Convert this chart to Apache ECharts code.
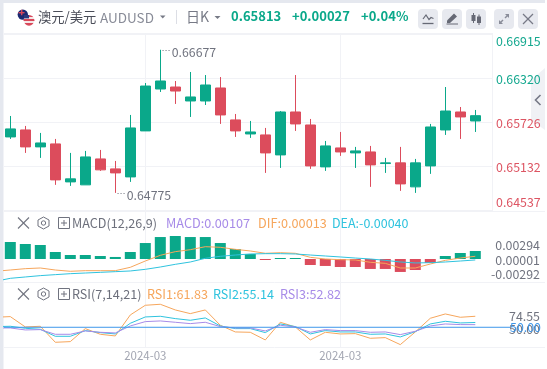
<!DOCTYPE html>
<html>
<head>
<meta charset="utf-8">
<title>AUDUSD</title>
<style>
html,body{margin:0;padding:0;background:#fff;}
#main{width:547px;height:369px;}
</style>
<script src="https://cdn.jsdelivr.net/npm/echarts@6/dist/echarts.min.js"></script>
</head>
<body>
<div id="main"></div>
<script>
var opens  = [.65527,.65621,.65393,.65433,.64922,.64882,.65231,.65097,.64989,.65608,.66172,.66199,.66011,.66011,.66186,.65756,.65567,.65554,.65285,.65863,.65688,.65124,.65379,.65312,.65325,.65169,.65178,.64855,.65137,.65621,.65863,.65742];
var closes = [.65635,.65393,.65446,.64949,.64963,.65258,.65084,.65043,.65648,.66212,.66280,.66145,.66065,.66226,.65823,.65608,.65594,.65312,.65863,.65702,.65137,.65406,.65325,.65339,.65151,.65178,.64895,.65178,.65661,.65876,.65796,.65813];
var lows   = [.65500,.65312,.65245,.64882,.64868,.64882,.65070,.64774,.64922,.65608,.66132,.65971,.65796,.65957,.65702,.65527,.65514,.65043,.65110,.65608,.65097,.65070,.65272,.65110,.64855,.65043,.64801,.64774,.65030,.65554,.65500,.65594];
var highs  = [.65809,.65675,.65581,.65500,.65312,.65339,.65352,.65204,.65823,.66253,.66700,.66280,.66401,.66360,.66333,.65836,.65742,.65648,.65876,.66360,.65769,.65473,.65594,.65393,.65406,.65245,.65393,.65231,.65702,.66199,.65930,.65890];
var priceTicks = [.66915,.66320,.65726,.65132,.64537];
var lastPrice = .65813;
var highIdx = 10, lowIdx = 7;
var highText = '0.66677', lowText = '0.64775';

var macdBars = [.00227,.00200,.00187,.00093,.00053,.00053,.00040,.00027,.00093,.00213,.00293,.00307,.00293,.00293,.00213,.00133,.00067,-.00007,.00005,.00005,-.00080,-.00093,-.00107,-.00107,-.00133,-.00133,-.00173,-.00147,-.00053,.00040,.00080,.00107];
// lines start one step left of the first candle, cut off by the grid
var dif = [-.00164,-.00147,-.00129,-.00120,-.00147,-.00164,-.00156,-.00156,-.00156,-.00111,-.00027,.00049,.00098,.00124,.00164,.00156,.00129,.00107,.00076,.00084,.00076,.00022,0,-.00009,-.00013,-.00044,-.00058,-.00120,-.00120,-.00067,-.00018,.00013,.00036];
var dea = [-.00298,-.00258,-.00240,-.00222,-.00209,-.00196,-.00187,-.00178,-.00169,-.00160,-.00138,-.00107,-.00071,-.00040,.00009,.00036,.00053,.00067,.00071,.00071,.00067,.00053,.00040,.00027,.00013,0,-.00018,-.00040,-.00053,-.00049,-.00040,-.00027,-.00013];
var macdTicks = [.00294,.00001,-.00292];

var rsi1 = [60.75,61.47,50.36,51.08,33.87,34.59,48.57,42.47,40.68,63.26,73.65,74.73,68.64,64.69,68.64,52.15,44.98,44.62,36.38,55.38,50.36,36.38,44.62,42.83,43.19,38.17,38.89,31.36,44.98,59.68,64.34,60.75,61.83];
var rsi2 = [50.72,51.08,48.92,47.85,40.32,40.32,46.42,44.27,42.83,54.30,61.11,61.83,59.32,57.53,60.04,51.43,48.57,48.57,44.27,53.58,50.72,42.83,46.42,44.98,44.98,42.47,42.83,39.61,45.34,53.58,56.45,54.66,55.14];
var rsi3 = [49.28,49.28,47.13,47.49,42.47,42.47,46.06,44.62,43.91,51.43,56.09,56.81,55.38,53.94,55.38,50.72,49.28,49.28,46.06,52.15,50.36,44.62,47.49,46.42,46.42,44.62,44.98,42.12,45.70,51.43,53.58,52.87,52.82];
var rsiTicks = [74.55,50,31.21];
var rsiMid = [50,50];

var xTicks = [9,22];
var xLabels = ['2024-03','2024-03'];

var green = '#0aa88a', red = '#dc4c5c', orange = '#f6a65c', cyan = '#2fc3de', purple = '#a78be8', blue = '#3f97ea';
var gridLine = '#f1f2f6', grey = '#70737f', dark = '#6d707c', btn = '#e7e9ef';
var priceUp = '#14a88f', priceDown = '#dd5563';
var font = '"Noto Sans CJK SC","Noto Sans",sans-serif';
var xMin = -0.42, pxPerStep = 15;

var myChart = echarts.init(document.getElementById('main'), null, {renderer:'canvas'});

function indexed(list, first){
	return list.map(function(v,i){ return [i + first, v]; });
}
function xAxisFor(gridIndex, width, showLabel){
	return {
		type:'value', gridIndex:gridIndex, min:xMin, max:xMin + width/pxPerStep,
		axisLine:{show:false},
		axisTick:{show:false, customValues:xTicks},
		splitLine:{show:true, lineStyle:{color:gridLine, width:1}},
		axisLabel:{
			show:showLabel, customValues:xTicks, margin:3, fontSize:11.5, fontFamily:font, color:'#a3a6b2',
			formatter:function(v){ return xLabels[xTicks.indexOf(v)]; }
		}
	};
}
function labelAxis(gridIndex, min, max, ticks, digits, margin){
	return {
		type:'value', gridIndex:gridIndex, position:'right', min:min, max:max,
		axisLine:{show:false}, splitLine:{show:false},
		axisTick:{show:false, customValues:ticks},
		axisLabel:{
			customValues:ticks, align:'right', margin:margin, fontSize:12.4, fontFamily:font, color:grey,
			formatter:function(v){ return Number(v).toFixed(digits); }
		}
	};
}
function hiddenAxis(gridIndex, min, max){
	return {type:'value', gridIndex:gridIndex, show:false, min:min, max:max, splitLine:{show:false}};
}
function lineSeries(name, list, color, axisIdx, yIdx){
	return {
		name:name, type:'line', xAxisIndex:axisIdx, yAxisIndex:yIdx, data:indexed(list,-1),
		showSymbol:false, silent:true, animation:false,
		lineStyle:{color:color, width:1}, itemStyle:{color:color}
	};
}
function txt(x,y,text,color,size,weight){
	return {type:'text', x:x, y:y, silent:true, style:{
		text:text, fill:color, font:(weight||'normal') + ' ' + (size||12) + 'px ' + font, verticalAlign:'middle'
	}};
}
function seg(x1,y1,x2,y2,color,w){
	return {type:'line', silent:true, shape:{x1:x1,y1:y1,x2:x2,y2:y2}, style:{stroke:color, lineWidth:w||1}};
}
function poly(points,color){
	return {type:'polygon', silent:true, shape:{points:points}, style:{fill:color}};
}
function rect(x,y,w,h,color,r,z){
	return {type:'rect', silent:true, z:z||0, shape:{x:x,y:y,width:w,height:h,r:r||0}, style:{fill:color}};
}
function toolRow(y){
	return [
		seg(18,y-5.5,29,y+5.5,grey,1.1), seg(29,y-5.5,18,y+5.5,grey,1.1),
		{type:'polygon', silent:true, shape:{points:[[43.5,y-6],[49,y-3],[49,y+3],[43.5,y+6],[38,y+3],[38,y-3]]}, style:{fill:'none',stroke:grey,lineWidth:1}},
		{type:'circle', silent:true, shape:{cx:43.5,cy:y,r:2.2}, style:{fill:'none',stroke:grey,lineWidth:1}},
		{type:'rect', silent:true, shape:{x:58.5,y:y-5.5,width:11,height:11}, style:{fill:'none',stroke:grey,lineWidth:1}},
		seg(61,y,67,y,grey,1), seg(64,y-3,64,y+3,grey,1)
	];
}

var flagUS = {type:'circle', silent:true, shape:{cx:29,cy:20.3,r:5.4}, style:{fill:new echarts.graphic.LinearGradient(0,0,0,1,[
	{offset:0,color:'#d8485a'},{offset:.2,color:'#d8485a'},{offset:.2,color:'#f5e8e8'},{offset:.38,color:'#f5e8e8'},
	{offset:.38,color:'#d8485a'},{offset:.56,color:'#d8485a'},{offset:.56,color:'#f5e8e8'},{offset:.74,color:'#f5e8e8'},
	{offset:.74,color:'#d8485a'},{offset:1,color:'#d8485a'}])}};

var graphics = [
	rect(0,0,545,3,'#e5e8ef',0,-10),
	rect(0,0,3.5,369,'#e5e8ef',0,-10),
	// collapse handle on the right edge
	poly([[531,80],[545,68],[545,130],[531,120]],'#f0f1f5'),
	{type:'polyline', silent:true, shape:{points:[[540.5,95],[535.5,100],[540.5,105]]}, style:{stroke:'#767986',lineWidth:1.6,fill:'none'}},
	// panel rules
	seg(4,33.5,492,33.5,gridLine),
	seg(4,211.5,545,211.5,gridLine),
	seg(4,282.5,545,282.5,gridLine),
	seg(4,347.5,545,347.5,gridLine),
	seg(492.5,33,492.5,211,gridLine),
	// header
	{type:'circle', silent:true, shape:{cx:22.8,cy:14.6,r:5.2}, style:{fill:'#1b2a72'}},
	rect(18.5,12,6,1.4,'#d8485a'), rect(21,9.8,1.4,5.4,'#d8485a'),
	flagUS,
	rect(24,15,5,3.4,'#2c3a7e'),
	txt(38,16.5,'澳元/美元','#4a4d58',13.3),
	txt(100,18,'AUDUSD','#888b97',13.5),
	poly([[160,15.5],[165.5,15.5],[162.75,18.5]],'#777a86'),
	seg(176.5,10,176.5,24,'#dcdee5'),
	txt(186,16.5,'日K','#777a86',14),
	poly([[214.5,16],[220.5,16],[217.5,19]],'#777a86'),
	txt(231,16.5,'0.65813',green,13,'bold'),
	txt(292,16.5,'+0.00027',green,13,'bold'),
	txt(361,16.5,'+0.04%',green,13,'bold'),
	rect(418,9,20,20,btn,4), rect(442,9,20,20,btn,4), rect(466,9,20,20,btn,4), rect(494,9,20,20,btn,4), rect(518,9,20,20,btn,4),
	{type:'polyline', silent:true, shape:{points:[[423,19],[426,15],[429,19.5],[431,17.5],[433.5,18.5]]}, style:{stroke:'#666975',lineWidth:1.2,fill:'none'}},
	seg(422.5,23.5,433.5,23.5,'#666975',1.3),
	poly([[447,20.5],[454,13.5],[457,16.5],[450,23],[447,23]],'#666975'),
	seg(446.5,24,458,24,'#666975',1),
	rect(471.5,15,4,6,'#666975'), seg(473.5,13,473.5,23,'#666975',1),
	rect(477,16.5,4,6.5,'#666975'), seg(479,14.5,479,25,'#666975',1),
	seg(500.5,22.5,503,20,'#8a8d99',1.4), seg(507.5,15.5,505,18,'#8a8d99',1.4),
	poly([[499,24],[499,20],[503,24]],'#8a8d99'), poly([[509,14],[505,14],[509,18]],'#8a8d99'),
	seg(523,14,533,24,'#777a86',1.2), seg(533,14,523,24,'#777a86',1.2),
	// indicator title rows
	txt(72,223.5,'MACD(12,26,9)',dark,12.6),
	txt(166,223.5,'MACD:0.00107',purple,12.7),
	txt(258,223.5,'DIF:0.00013',orange,12.7),
	txt(332,223.5,'DEA:-0.00040',cyan,12.5),
	txt(72,294.5,'RSI(7,14,21)',dark,12.6),
	txt(147,294.5,'RSI1:61.83',orange,12.6),
	txt(213,294.5,'RSI2:55.14',cyan,12.6),
	txt(280,294.5,'RSI3:52.82',purple,12.6)
].concat(toolRow(223), toolRow(294));

var candleData = opens.map(function(o,i){ return [i, o, closes[i], lows[i], highs[i]]; });

function extreme(idx, value, text, dy){
	return {
		coord:[idx,value], symbol:'circle', symbolSize:0,
		label:{show:true, position:'right', distance:11.5, offset:[0,dy], formatter:text, color:grey, fontSize:12.3, fontFamily:font}
	};
}
function priceStyle(color, padding){
	return {color:color, fontSize:12.4, fontFamily:font, padding:padding};
}

var option = {
	animation:false,
	backgroundColor:'#fff',
	grid:[
		{left:4, top:33.8, width:488, height:176.7},
		{left:4, top:212, width:488, height:70},
		{left:4, top:283, width:506, height:64}
	],
	xAxis:[ xAxisFor(0,488,false), xAxisFor(1,488,false), xAxisFor(2,506,true) ],
	yAxis:[
		{
			type:'value', gridIndex:0, position:'right', min:.64537, max:.66915,
			axisLine:{show:false},
			axisTick:{show:false, customValues:priceTicks},
			splitLine:{show:true, lineStyle:{color:gridLine}},
			axisLabel:{
				customValues:priceTicks, margin:4,
				// first and last labels sit inside the panel, the rest just under their line
				formatter:function(v){
					var n = Number(v), i = priceTicks.indexOf(n);
					var key = (n > lastPrice ? 'up' : 'down') + (i === 0 ? 'Top' : i === priceTicks.length-1 ? 'Bottom' : '');
					return '{' + key + '|' + n.toFixed(5) + '}';
				},
				rich:{
					upTop:priceStyle(priceUp,[14,0,0,0]),
					up:priceStyle(priceUp,[3,0,0,0]),
					down:priceStyle(priceDown,[3,0,0,0]),
					downBottom:priceStyle(priceDown,[0,0,16,0])
				}
			}
		},
		hiddenAxis(1,-.00307,.00627),
		labelAxis(1,-.00436,.00945,macdTicks,5,48),
		hiddenAxis(2,28.8,97.6),
		labelAxis(2,15.66,140.05,rsiTicks,2,30)
	],
	graphic:graphics,
	series:[
		{
			type:'candlestick', xAxisIndex:0, yAxisIndex:0, data:candleData, barWidth:10, silent:true,
			itemStyle:{color:green, color0:red, borderColor:green, borderColor0:red, borderWidth:1},
			markPoint:{silent:true, data:[
				extreme(highIdx, highs[highIdx], highText, 3),
				extreme(lowIdx, lows[lowIdx], lowText, 2)
			]},
			markLine:{silent:true, symbol:'none', label:{show:false}, lineStyle:{type:[1,2], color:grey, width:1},
				data:[
					[{coord:[highIdx+.15,highs[highIdx]]},{coord:[highIdx+.65,highs[highIdx]]}],
					[{coord:[lowIdx+.15,lows[lowIdx]]},{coord:[lowIdx+.65,lows[lowIdx]]}]
				]
			}
		},
		{
			type:'bar', xAxisIndex:1, yAxisIndex:1, data:indexed(macdBars,0), barWidth:11, barMinHeight:1, silent:true,
			itemStyle:{color:function(p){ return p.value[1] >= 0 ? green : red; }}
		},
		lineSeries('DIF',dif,orange,1,1),
		lineSeries('DEA',dea,cyan,1,1),
		lineSeries('RSI1',rsi1,orange,2,3),
		lineSeries('RSI2',rsi2,cyan,2,3),
		lineSeries('RSI3',rsi3,purple,2,3),
		{
			name:'RSI mid', type:'line', xAxisIndex:2, yAxisIndex:3, silent:true, showSymbol:false, clip:false,
			data:[[xMin,rsiMid[0]],[xMin + 506/pxPerStep,rsiMid[1]]],
			lineStyle:{color:blue, width:1}, itemStyle:{color:blue},
			endLabel:{show:true, distance:0, color:blue, fontSize:12.4, fontFamily:font, formatter:rsiMid[1].toFixed(2)}
		}
	]
};
myChart.setOption(option);
</script>
</body>
</html>
